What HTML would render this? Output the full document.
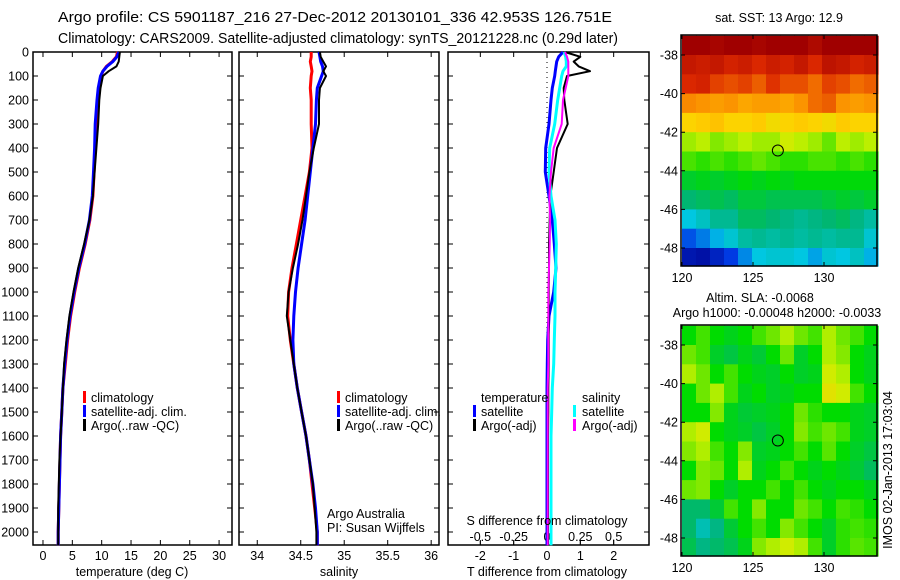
<!DOCTYPE html>
<html><head><meta charset="utf-8">
<style>
body{margin:0;background:#fff;}
svg{display:block;font-family:"Liberation Sans",sans-serif;}
</style></head>
<body>
<svg id="fig" width="900" height="580" viewBox="0 0 900 580" xmlns="http://www.w3.org/2000/svg">
<text x="58" y="22" font-size="15" textLength="554" lengthAdjust="spacingAndGlyphs">Argo profile: CS 5901187_216 27-Dec-2012 20130101_336 42.953S 126.751E</text>
<text x="58" y="43" font-size="14.5" textLength="560" lengthAdjust="spacingAndGlyphs">Climatology: CARS2009. Satellite-adjusted climatology: synTS_20121228.nc (0.29d later)</text>
<text x="779" y="22" font-size="12.5" text-anchor="middle">sat. SST: 13 Argo: 12.9</text>
<text x="760" y="302" font-size="12.5" text-anchor="middle">Altim. SLA: -0.0068</text>
<text x="777" y="317" font-size="12.5" text-anchor="middle">Argo h1000: -0.00048 h2000: -0.0033</text>
<text x="0" y="0" font-size="12.5" text-anchor="middle" transform="translate(892,470) rotate(-90)">IMOS 02-Jan-2013 17:03:04</text>
<g id="g"></g>
</svg>
<script>
// ---------- data ----------
const depthTicks=[0,100,200,300,400,500,600,700,800,900,1000,1100,1200,1300,1400,1500,1600,1700,1800,1900,2000];
const tempTicks=[0,5,10,15,20,25,30];
const salTicks=[34,34.5,35,35.5,36];
const salTickLabels=["34","34.5","35","35.5","36"];
const tdiffTicks=[-2,-1,0,1,2];
const sdiffTicks=[-0.5,-0.25,0,0.25,0.5];
const sdiffTickLabels=["-0.5","-0.25","0","0.25","0.5"];
const lonTicks=[120,125,130];
const latTicks=[-38,-40,-42,-44,-46,-48];

const profDepth=[0,20,40,60,80,100,150,200,300,400,500,600,700,800,900,1000,1100,1200,1300,1400,1500,1600,1700,1800,1900,2000,2055];
const tempClim=[12.7,12.5,11.8,10.8,10.2,9.9,9.5,9.3,9.1,8.9,8.7,8.5,8.0,7.2,6.2,5.4,4.7,4.2,3.8,3.4,3.2,3.0,2.9,2.8,2.7,2.6,2.6];
const tempSat=[12.9,12.6,11.9,10.9,10.2,9.8,9.4,9.2,8.9,8.8,8.6,8.4,7.9,7.1,6.1,5.3,4.6,4.1,3.7,3.4,3.2,3.0,2.9,2.8,2.7,2.6,2.6];
const tempArgo=[13.1,13.0,12.9,12.5,11.2,10.2,9.8,9.6,9.4,9.1,8.8,8.5,7.9,7.0,6.0,5.2,4.5,4.0,3.6,3.4,3.2,3.0,2.8,2.7,2.6,2.6,2.6];
const salClim=[34.62,34.62,34.61,34.62,34.63,34.62,34.61,34.62,34.62,34.63,34.6,34.55,34.5,34.45,34.4,34.36,34.35,34.38,34.42,34.46,34.51,34.56,34.6,34.63,34.66,34.69,34.69];
const salSat=[34.71,34.72,34.73,34.75,34.76,34.74,34.69,34.68,34.67,34.64,34.61,34.58,34.55,34.51,34.47,34.44,34.42,34.41,34.42,34.46,34.51,34.56,34.6,34.64,34.67,34.69,34.69];
const salArgo=[34.72,34.73,34.76,34.79,34.76,34.79,34.72,34.71,34.71,34.65,34.6,34.56,34.52,34.47,34.41,34.36,34.34,34.38,34.42,34.46,34.51,34.56,34.6,34.64,34.66,34.68,34.68];
const tdSat=[0.48,0.35,0.29,0.27,0.25,0.23,0.16,0.12,0.06,-0.04,-0.05,0.06,0.16,0.22,0.27,0.2,0.06,0.02,0.01,0.0,0.0,0.0,0.0,0.0,0.0,0.0,0.0];
const tdArgo=[0.54,1.0,0.8,0.95,1.29,0.6,0.5,0.52,0.62,0.3,0.2,0.1,0.08,0.06,0.06,0.05,0.05,0.05,0.05,0.04,0.04,0.03,0.03,0.03,0.03,0.03,0.03];
const sdSat=[0.128,0.14,0.145,0.145,0.12,0.11,0.095,0.08,0.058,0.02,0.015,0.03,0.06,0.07,0.065,0.06,0.06,0.055,0.05,0.04,0.035,0.03,0.03,0.03,0.03,0.03,0.03];
const sdArgo=[0.135,0.15,0.16,0.16,0.16,0.16,0.14,0.12,0.11,0.05,0.03,0.018,0.023,0.02,0.015,0.01,0.01,0.01,0.01,0.005,0.005,0.005,0.005,0.005,0.005,0.005,0.005];

const sstGrid=[
[15.9,15.9,15.8,15.9,15.9,15.8,15.9,15.9,15.9,15.7,15.9,15.9,15.9,15.9],
[15.4,15.3,15.4,15.2,15.3,15.1,15.3,15.2,15.4,15.1,15.5,15.4,15.2,15.3],
[15.1,15.2,14.9,14.8,14.9,14.7,15.0,14.8,14.8,14.6,14.9,14.8,14.6,14.7],
[14.4,14.3,14.2,14.3,14.1,14.2,14.2,14.1,14.3,14.6,14.7,14.3,14.2,14.3],
[13.6,13.7,13.8,13.6,13.6,13.7,13.5,13.6,13.7,13.6,13.5,13.7,13.6,13.6],
[13.0,13.1,12.9,13.0,13.1,13.0,13.0,13.2,13.1,13.0,12.8,13.1,13.0,13.1],
[12.7,12.6,12.7,12.6,12.7,12.8,12.7,12.6,12.6,12.7,12.7,12.6,12.7,12.6],
[12.2,12.3,12.2,12.3,12.4,12.3,12.4,12.3,12.4,12.4,12.4,12.4,12.4,12.4],
[11.8,11.9,12.0,11.9,12.1,12.1,12.0,12.0,12.0,12.0,12.1,12.2,12.1,12.2],
[11.1,11.3,11.6,11.6,11.9,11.9,11.8,11.7,11.6,11.7,11.8,11.9,11.7,11.5],
[10.2,10.5,10.9,11.2,11.5,11.6,11.5,11.6,11.5,11.6,11.5,11.6,11.6,11.2],
[9.4,9.3,9.6,10.0,10.6,11.1,11.2,11.2,11.1,10.8,11.2,11.1,11.3,10.9]];
const slaGrid=[
[0,0.03,0,-0.02,0,0.03,0.05,0.08,0.05,0.03,0.08,0.05,0.03,0],
[0.05,0.03,-0.03,-0.05,-0.02,-0.04,0,0.05,-0.03,0,0.08,0.06,0,-0.02],
[0.08,0.05,0,0.03,0,-0.02,-0.03,0,-0.03,-0.02,0.1,0.08,0,-0.02],
[0,0.05,0.08,0.03,-0.02,0,-0.03,-0.02,0,0,0.12,0.1,0.03,0],
[0,0,0.06,-0.02,-0.04,-0.03,-0.02,0,0.05,0.02,0,0,-0.02,-0.03],
[0.08,0.1,0,-0.02,-0.03,-0.05,-0.03,0,0.06,0.03,0.05,0.03,-0.02,-0.03],
[0.06,0.08,0.03,0,0.06,-0.03,-0.02,0,0.03,0,0.04,0,-0.03,-0.05],
[0,0.06,0.05,0,0.08,-0.02,0,0.03,0,-0.02,0,-0.02,-0.04,-0.07],
[0.05,0.06,0,-0.03,0,0,0.03,0,0.03,0,-0.02,0,0,-0.02],
[-0.08,-0.08,-0.04,0.03,0,0.06,0,0,0.05,0.03,0,0.03,0.02,0],
[-0.08,-0.14,-0.1,-0.04,0,0.03,0,0.06,0.03,0,-0.03,0.02,0.03,0.02],
[-0.06,-0.1,-0.08,-0.06,-0.02,0.06,0.08,0.1,0.08,0.03,-0.03,0.02,0.04,0.03]];
const argoLon=126.75, argoLat=-42.95;

// ---------- helpers ----------
const NS="http://www.w3.org/2000/svg";
const G=document.getElementById('g');
function mk(tag,at,parent){const e=document.createElementNS(NS,tag);for(const k in at)e.setAttribute(k,at[k]);(parent||G).appendChild(e);return e;}
const top0=52, bot0=545;
const yD=d=>top0+d*0.24;
function lin(d0,d1,r0,r1){return v=>r0+(v-d0)*(r1-r0)/(d1-d0);}

function panel(name,x0,x1,xs,ticks,labels,showY){
  const box=mk('rect',{x:x0,y:top0,width:x1-x0,height:bot0-top0,fill:'#fff',stroke:'#000','stroke-width':1.5});
  
  
  depthTicks.forEach(d=>{
    const y=yD(d);
    const t=mk('path',{d:`M${x0},${y}h5M${x1},${y}h-5`,stroke:'#000','stroke-width':1});
    
    
    if(showY){const l=mk('text',{x:x0-4,y:y+4.5,'font-size':12.5,'text-anchor':'end'});l.textContent=d;
      
      }
  });
  ticks.forEach((v,i)=>{
    const x=xs(v);
    const t=mk('path',{d:`M${x},${bot0}v-5M${x},${top0}v5`,stroke:'#000','stroke-width':1});
    
    
    const l=mk('text',{x:x,y:560,'font-size':12.5,'text-anchor':'middle'});l.textContent=labels?labels[i]:v;
    
    
  });
}
function line(name,xs,vals,color,w){
  const pts=profDepth.map((d,i)=>xs(vals[i]).toFixed(1)+','+yD(d).toFixed(1)).join(' ');
  const p=mk('polyline',{points:pts,fill:'none',stroke:color,'stroke-width':w,'stroke-linejoin':'round'});
  
  
}
function txt(name,x,y,s,size,anchor){const t=mk('text',{x:x,y:y,'font-size':size||12.5,'text-anchor':anchor||'start'});t.textContent=s;
  
  return t;}
function legMark(name,x,y,color){const r=mk('rect',{x:x,y:y-11,width:3,height:12,fill:color});
  
  }

// ---------- panel 1: temperature ----------
const xT=lin(-1.7,32.2,33,232);
panel('temperature-panel',33,232,xT,tempTicks,null,true);
line('temp-climatology-line',xT,tempClim,'#f00',3);
line('temp-satellite-line',xT,tempSat,'#00f',3);
line('temp-argo-line',xT,tempArgo,'#000',2);
txt('temperature-x-axis-title',132,576,'temperature (deg C)',12.5,'middle');
[['climatology','#f00'],['satellite-adj. clim.','#00f'],['Argo(..raw -QC)','#000']].forEach((e,i)=>{
  legMark('temp-legend-marker',83,402+i*14,e[1]);txt('temp-legend-entry',91,402+i*14,e[0]);});

// ---------- panel 2: salinity ----------
const xS=lin(33.79,36.09,239,439);
panel('salinity-panel',239,439,xS,salTicks,salTickLabels,false);
line('sal-climatology-line',xS,salClim,'#f00',3);
line('sal-satellite-line',xS,salSat,'#00f',3);
line('sal-argo-line',xS,salArgo,'#000',2);
txt('salinity-x-axis-title',339,576,'salinity',12.5,'middle');
[['climatology','#f00'],['satellite-adj. clim.','#00f'],['Argo(..raw -QC)','#000']].forEach((e,i)=>{
  legMark('sal-legend-marker',337,402+i*14,e[1]);txt('sal-legend-entry',345,402+i*14,e[0]);});
txt('argo-australia-label',327,518,'Argo Australia');
txt('pi-label',327,532,'PI: Susan Wijffels');

// ---------- panel 3: differences ----------
const xTD=lin(-2.97,3.06,448,649);
const xSD=v=>xTD(v*4);
panel('difference-panel',448,649,xTD,tdiffTicks,null,false);
const z=mk('line',{x1:xTD(0),y1:top0,x2:xTD(0),y2:bot0,stroke:'#000','stroke-width':1,'stroke-dasharray':'1,4'});


sdiffTicks.forEach((v,i)=>{txt('s-diff-tick-label',xSD(v),541,sdiffTickLabels[i],12.5,'middle');
  const t=mk('path',{d:`M${xSD(v)},${bot0}v-4`,stroke:'#000'});
  
  });
line('t-diff-satellite-line',xTD,tdSat,'#00f',3);
line('t-diff-argo-line',xTD,tdArgo,'#000',2);
line('s-diff-satellite-line',xSD,sdSat,'#0ff',3);
line('s-diff-argo-line',xSD,sdArgo,'#f0f',2);
txt('s-diff-axis-title',547,525,'S difference from climatology',12.5,'middle');
txt('t-diff-axis-title',547,576,'T difference from climatology',12.5,'middle');
txt('legend-temperature-heading',481,402,'temperature');
txt('legend-salinity-heading',582,402,'salinity');
legMark('legend-marker-t-sat',473,416,'#00f');txt('legend-entry-t-sat',481,416,'satellite');
legMark('legend-marker-t-argo',473,430,'#000');txt('legend-entry-t-argo',481,430,'Argo(-adj)');
legMark('legend-marker-s-sat',573,416,'#0ff');txt('legend-entry-s-sat',582,416,'satellite');
legMark('legend-marker-s-argo',573,430,'#f0f');txt('legend-entry-s-argo',582,430,'Argo(-adj)');

// ---------- maps ----------
const cmapStops=[[0,0,0,140],[0.15,0,60,230],[0.3,0,200,230],[0.4,0,180,120],[0.5,0,220,0],[0.6,200,240,0],[0.67,255,210,0],[0.78,250,140,0],[0.88,220,40,0],[1,160,0,0]];
function cmap(t){t=Math.max(0,Math.min(1,t));
  for(let i=1;i<cmapStops.length;i++){const a=cmapStops[i-1],b=cmapStops[i];
    if(t<=b[0]){const f=(t-a[0])/(b[0]-a[0]);
      return `rgb(${Math.round(a[1]+f*(b[1]-a[1]))},${Math.round(a[2]+f*(b[2]-a[2]))},${Math.round(a[3]+f*(b[3]-a[3]))})`;}}
  return 'rgb(160,0,0)';}
function map(name,top,bot,grid,toT){
  const x0=681,x1=877;
  const xL=lin(120,130,682,824);
  const yL=lin(-38,-48,top+20,top+20+193);
  const lat0=-37, dLat=(-49+37)/grid.length;
  grid.forEach((row,r)=>row.forEach((v,c)=>{
    const cx0=xL(120+c*(13.8/row.length)), cx1=xL(120+(c+1)*(13.8/row.length));
    const cy0=Math.max(top,yL(lat0+r*dLat)), cy1=Math.min(bot,yL(lat0+(r+1)*dLat));
    const cell=mk('rect',{x:cx0.toFixed(1),y:cy0.toFixed(1),width:(cx1-cx0+0.6).toFixed(1),height:(cy1-cy0+0.6).toFixed(1),fill:cmap(toT(v))});
    
    
  }));
  const f=mk('rect',{x:x0,y:top,width:x1-x0,height:bot-top,fill:'none',stroke:'#000','stroke-width':1.5});
  
  
  latTicks.forEach(v=>{const y=yL(v);
    const t=mk('path',{d:`M${x0},${y}h4M${x1},${y}h-4`,stroke:'#000'});
    
    
    txt(name+'-lat-label',x0-3,y+4.5,v,12.5,'end');});
  lonTicks.forEach(v=>{const x=xL(v);
    const t=mk('path',{d:`M${x},${bot}v-4M${x},${top}v4`,stroke:'#000'});
    
    
    txt(name+'-lon-label',x,bot+16,v,12.5,'middle');});
  const c=mk('circle',{cx:xL(argoLon),cy:yL(argoLat),r:5.5,fill:'none',stroke:'#000','stroke-width':1});
  
  
}
map('sst-map',35,266,sstGrid,v=>(v-9)/(15.9-9));
map('sla-map',325,556,slaGrid,v=>0.5+v*1.1);
</script>
</body></html>
